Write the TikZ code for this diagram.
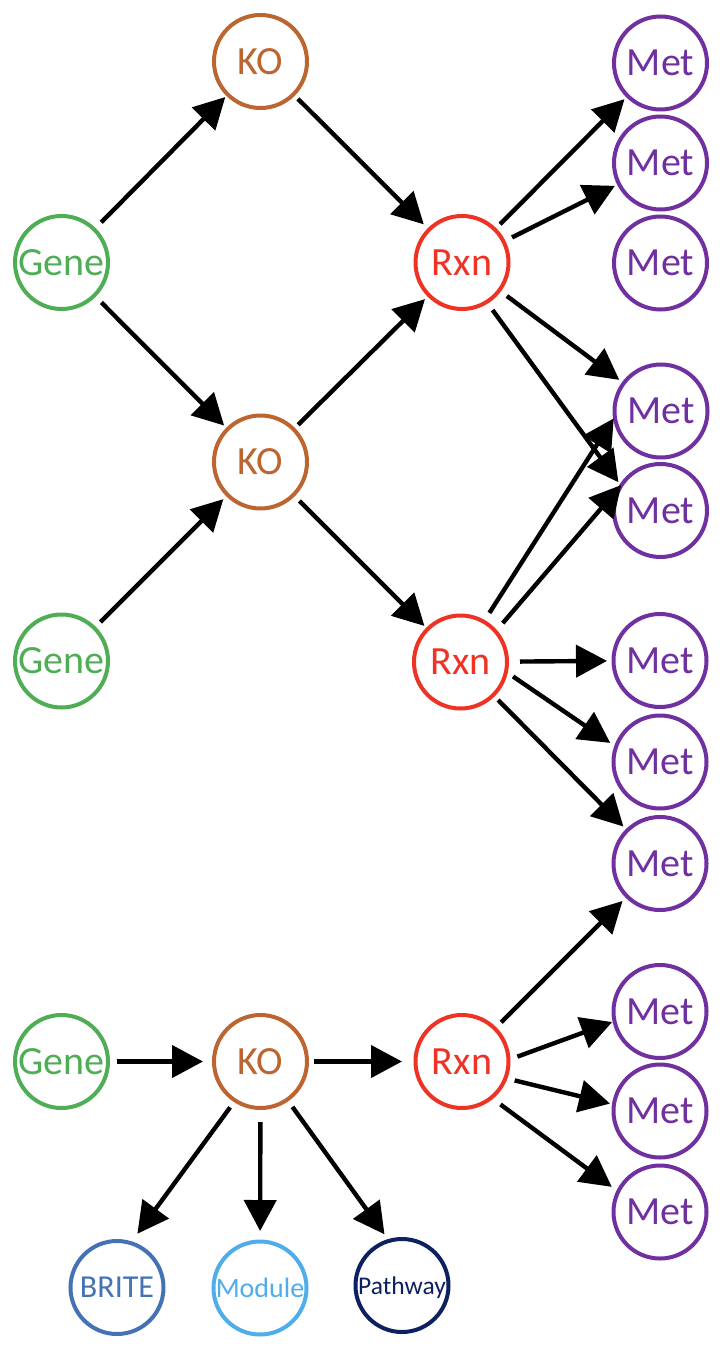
\documentclass[tikz,border=0pt]{standalone}
\usepackage{fontspec}
\setmainfont{Carlito}
\usetikzlibrary{arrows.meta}
\definecolor{cgene}{HTML}{4FAE55}
\definecolor{cko}{HTML}{BD6530}
\definecolor{crxn}{HTML}{EE3224}
\definecolor{cmet}{HTML}{7030A0}
\definecolor{cbrite}{HTML}{4473B5}
\definecolor{cmodule}{HTML}{4FADEA}
\definecolor{cpath}{HTML}{0D2060}
\tikzset{
  ent/.style={circle, draw, line width=4pt, minimum size=93pt, inner sep=0pt, outer sep=0pt,
    text depth=0pt, font=\fontsize{40}{40}\selectfont, fill=white},
  gene/.style={ent, draw=cgene, text=cgene},
  ko/.style={ent, draw=cko, text=cko},
  rxn/.style={ent, draw=crxn, text=crxn},
  met/.style={ent, draw=cmet, text=cmet},
  brite/.style={ent, draw=cbrite, text=cbrite, font=\fontsize{32}{32}\selectfont},
  module/.style={ent, draw=cmodule, text=cmodule, font=\fontsize{28}{28}\selectfont},
  pathway/.style={ent, draw=cpath, text=cpath, font=\fontsize{25.5}{25.5}\selectfont},
  arr/.style={-{Triangle[length=31pt,width=32pt]}, line width=4.4pt, black},
}
\begin{document}
\begin{tikzpicture}[x=1pt,y=-1pt]
\useasboundingbox (0,0) rectangle (724,1356);
% nodes
\node[gene] (g1) at (61.5,262.5) {Gene};
\node[gene] (g2) at (61.5,661) {Gene};
\node[gene] (g3) at (61.5,1061.5) {Gene};
\node[ko] (k1) at (260.5,61.5) {KO};
\node[ko] (k2) at (260.5,462) {KO};
\node[ko] (k3) at (260.5,1061.5) {KO};
\node[rxn] (r1) at (462,262.5) {Rxn};
\node[rxn] (r2) at (460.5,662) {Rxn};
\node[rxn] (r3) at (462,1061.5) {Rxn};
\node[met] (m1) at (660.5,63) {Met};
\node[met] (m2) at (660.5,163) {Met};
\node[met] (m3) at (660.5,263) {Met};
\node[met] (m4) at (661,411) {Met};
\node[met] (m5) at (660.5,510.5) {Met};
\node[met] (m6) at (660,660.5) {Met};
\node[met] (m7) at (660,762) {Met};
\node[met] (m8) at (660,863.5) {Met};
\node[met] (m9) at (660,1011.5) {Met};
\node[met] (m10) at (660,1111) {Met};
\node[met] (m11) at (660,1212) {Met};
\node[brite] (br) at (117,1287.5) {BRITE};
\node[module] (mo) at (260,1288) {Module};
\node[pathway] (pw) at (402,1285.5) {Pathway};
% arrows
\draw[arr, shorten <=10pt, shorten >=3.5pt] (g1) -- (k1);
\draw[arr, shorten <=10pt, shorten >=5pt] (g1) -- (k2);
\draw[arr, shorten <=8.5pt, shorten >=6pt] (g2) -- (k2);
\draw[arr, shorten <=6.5pt, shorten >=7.5pt] (k1) -- (r1);
\draw[arr, shorten <=6.5pt, shorten >=5.5pt] (k2) -- (r1);
\draw[arr, shorten <=8.5pt, shorten >=4.5pt] (k2) -- (r2);
\draw[arr, shorten <=7.5pt, shorten >=4.5pt] (r1) -- (m1);
\draw[arr, shorten <=9.5pt, shorten >=4.5pt] (r1) -- (m2);
\draw[arr, shorten <=9.5pt, shorten >=5.5pt] (r1) -- (m4);
\draw[arr, shorten <=10pt, shorten >=4.5pt] (r1.-58) -- (m5.148);
\draw[arr, shorten <=10.5pt, shorten >=2pt] (r2.60) -- (m4.187);
\draw[arr, shorten <=11pt, shorten >=5pt] (r2.41) -- (m5.141);
\draw[arr, shorten <=13pt, shorten >=6.5pt] (r2) -- (m6);
\draw[arr, shorten <=8.5pt, shorten >=7pt] (r2.-12.6) -- (m7.161.6);
\draw[arr, shorten <=7pt, shorten >=5.5pt] (r2) -- (m8);
\draw[arr, shorten <=9pt, shorten >=6.5pt] (r3) -- (m8);
\draw[arr, shorten <=9.5pt, shorten >=2.5pt] (r3.2.5) -- (m9.192);
\draw[arr, shorten <=9.5pt, shorten >=4pt] (r3.-21.5) -- (m10.172);
\draw[arr, shorten <=11.5pt, shorten >=8pt] (r3.-51.6) -- (m11.154);
\draw[arr, shorten <=8.5pt, shorten >=11pt] (g3) -- (k3);
\draw[arr, shorten <=7pt, shorten >=13.5pt] (k3) -- (r3);
\draw[arr, shorten <=8.5pt, shorten >=11.5pt] (k3.237.6) -- (br.73);
\draw[arr, shorten <=14pt, shorten >=10.5pt] (k3) -- (mo);
\draw[arr, shorten <=9pt, shorten >=8pt] (k3.-55.3) -- (pw.106);
\end{tikzpicture}
\end{document}
